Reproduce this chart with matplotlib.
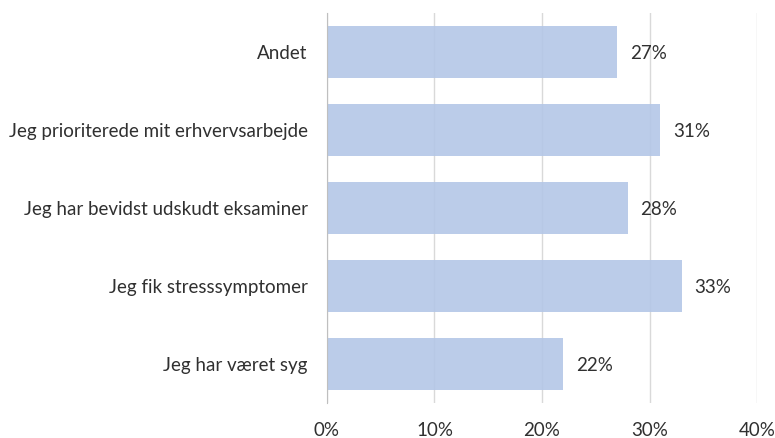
import matplotlib
matplotlib.use("Agg")
import matplotlib.pyplot as plt

categories = ["Andet", "Jeg prioriterede mit erhvervsarbejde", "Jeg har bevidst udskudt eksaminer",
              "Jeg fik stresssymptomer", "Jeg har været syg"]
values = [27, 31, 28, 33, 22]
xticks = [0, 10, 20, 30, 40]

plt.rcParams['font.family'] = ['Lato', 'DejaVu Sans']
text_color = '#303030'
fs = 13.5

fig = plt.figure(figsize=(7.75, 4.38), dpi=100)
ax = fig.add_axes([0.4219, 0.0799, 0.5549, 0.8904])

pos = list(range(len(categories)))[::-1]
ax.barh(pos, values, height=0.655, color='#B4C7E7', alpha=0.9, zorder=2)
for p, v in zip(pos, values):
    ax.annotate(f"{v}%", (v, p), xytext=(9, -1), textcoords='offset points',
                va='center', ha='left', fontsize=fs, color=text_color)

ax.set_xlim(0, 40)
ax.set_ylim(-0.5, len(categories) - 0.5)
ax.set_xticks(xticks)
ax.set_xticklabels([f"{t}%" for t in xticks])
ax.set_yticks(pos)
ax.set_yticklabels(categories)
ax.tick_params(axis='both', length=0, labelsize=fs, labelcolor=text_color)
ax.tick_params(axis='x', pad=14)
ax.tick_params(axis='y', pad=14)

ax.grid(axis='x', color='#D9D9D9', linewidth=1, zorder=1)
for s in ['top', 'right', 'bottom']:
    ax.spines[s].set_visible(False)
ax.spines['left'].set_color('#BFBFBF')
ax.spines['left'].set_zorder(3)

fig.savefig("out.png", dpi=100)
